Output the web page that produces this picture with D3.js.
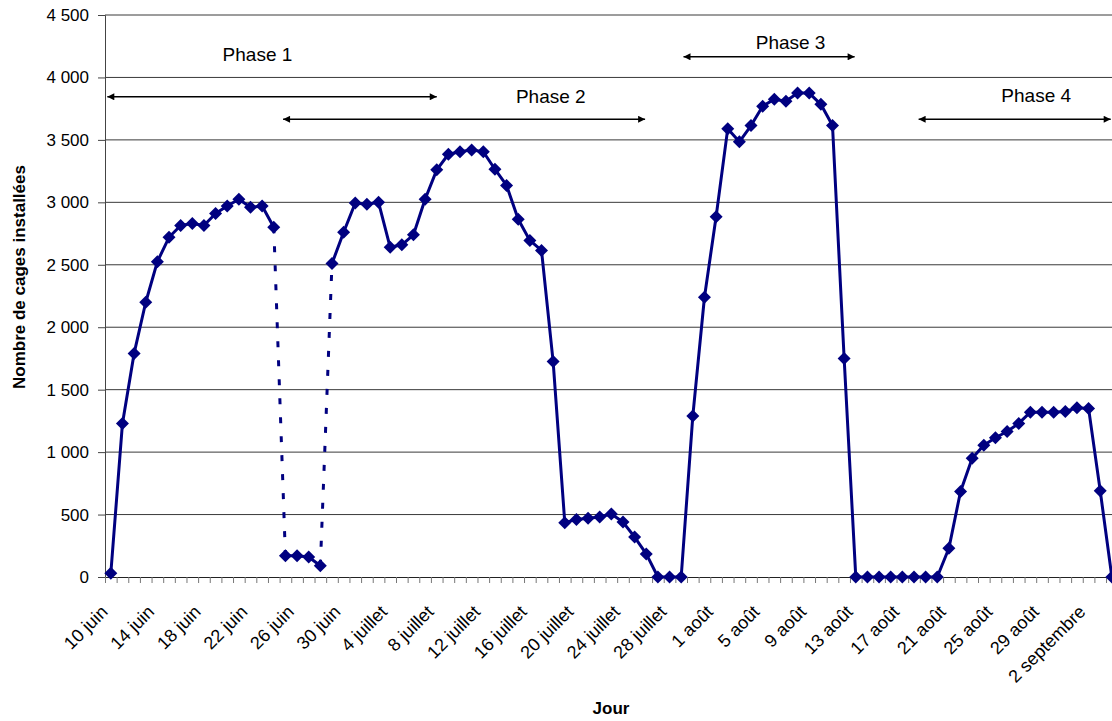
<!DOCTYPE html>
<html>
<head>
<meta charset="utf-8">
<script src="https://cdn.jsdelivr.net/npm/d3@7"></script>
<style>
  body { margin: 0; background: #fff; }
  svg { display: block; font-family: "Liberation Sans", Arial, sans-serif; }
</style>
</head>
<body>
<div id="chart-area"></div>
<script>
// one value per day, 10 juin -> 4 septembre
var firstDay = new Date(2005, 5, 10);
var lastDay = new Date(2005, 8, 4);

var cages = [
  30, 1230, 1790, 2200, 2525, 2720, 2815, 2830, 2815, 2910,
  2970, 3025, 2960, 2970, 2800, 170, 170, 160, 90, 2510,
  2760, 2995, 2985, 3000, 2640, 2660, 2740, 3025, 3260, 3385,
  3405, 3420, 3405, 3265, 3135, 2865, 2695, 2615, 1725, 435,
  460, 470, 480, 505, 440, 320, 185, 0, 0, 0,
  1290, 2240, 2885, 3590, 3485, 3615, 3770, 3825, 3810, 3875,
  3875, 3785, 3615, 1750, 0, 0, 0, 0, 0, 0,
  0, 0, 230, 685, 950, 1055, 1115, 1165, 1230, 1320,
  1320, 1320, 1325, 1355, 1350, 690, 0
];

// segments drawn dotted (start index of the segment)
var dottedFrom = [14, 18];

var xTickLabels = ["10 juin", "14 juin", "18 juin", "22 juin", "26 juin", "30 juin",
  "4 juillet", "8 juillet", "12 juillet", "16 juillet", "20 juillet", "24 juillet",
  "28 juillet", "1 août", "5 août", "9 août", "13 août", "17 août", "21 août",
  "25 août", "29 août", "2 septembre"];
var yTicks = [0, 500, 1000, 1500, 2000, 2500, 3000, 3500, 4000, 4500];

// phase annotations (positions in day index / number of cages)
var phaseNames = ["Phase 1", "Phase 2", "Phase 3", "Phase 4"];
var phaseFrom = [-0.3, 14.8, 49.2, 69.4];
var phaseTo = [28.0, 45.9, 63.9, 85.9];
var phaseArrowAt = [3845, 3665, 4165, 3665];
var phaseTextX = [12.6, 37.8, 58.4, 79.5];
var phaseTextAt = [4135, 3795, 4225, 3805];

var days = d3.timeDay.range(firstDay, d3.timeDay.offset(lastDay, 1));

var margin = { left: 105, top: 15, bottom: 144 };
var step = 11.64;
var width = days.length * step,
    height = 721 - margin.top - margin.bottom;

var svg = d3.select("#chart-area")
  .append("svg")
    .attr("width", 1112)
    .attr("height", 721);

svg.append("defs").append("marker")
    .attr("id", "head")
    .attr("viewBox", "0 0 10 10")
    .attr("refX", 10).attr("refY", 5)
    .attr("markerWidth", 10).attr("markerHeight", 7)
    .attr("markerUnits", "userSpaceOnUse")
    .attr("orient", "auto-start-reverse")
  .append("path")
    .attr("d", "M0,0L10,5L0,10Z")
    .attr("fill", "#000");

var g = svg.append("g")
    .attr("transform", "translate(" + margin.left + ", " + margin.top + ")");

var x = d3.scaleBand()
  .domain(d3.range(days.length))
  .range([0, width])
  .padding(0);
var xEdge = d3.scaleLinear().domain([0, days.length]).range([0, width]);
var xc = function (i) { return xEdge(i + 0.5); };

var y = d3.scaleLinear()
  .domain([0, 4500])
  .range([height, 0]);

var fr = d3.formatLocale({ decimal: ",", thousands: "\u00a0", grouping: [3], currency: ["", " €"] });

// gridlines
g.append("g")
  .selectAll("line")
  .data(yTicks.slice(1))
  .enter().append("line")
    .attr("x1", 0).attr("x2", width)
    .attr("y1", d => y(d)).attr("y2", d => y(d))
    .attr("stroke", "#3a3a3a").attr("stroke-width", 1);

// y axis
var yAxis = d3.axisLeft(y).tickValues(yTicks).tickSize(7).tickPadding(9).tickFormat(fr.format(",d"));
var ya = g.append("g").attr("class", "y-axis").call(yAxis);
ya.select(".domain").attr("stroke", "#444");
ya.selectAll(".tick line").attr("stroke", "#444");
ya.selectAll("text").attr("font-size", 17).attr("fill", "#000")
  .attr("font-family", "Liberation Sans, Arial, sans-serif");

// x axis: ticks on category boundaries
var xAxis = d3.axisBottom(xEdge).tickValues(d3.range(days.length + 1)).tickSize(6).tickFormat("");
var xa = g.append("g").attr("class", "x-axis")
  .attr("transform", "translate(0, " + height + ")")
  .call(xAxis);
xa.select(".domain").attr("stroke", "#222");
xa.selectAll(".tick line").attr("stroke", "#777");

g.append("g")
  .selectAll("text")
  .data(xTickLabels)
  .enter().append("text")
    .attr("transform", (d, i) => "translate(" + (xc(i * 4) - 2) + ", " + (height + 36) + ") rotate(-45)")
    .attr("text-anchor", "end")
    .attr("font-size", 18)
    .text(d => d);

// axis titles
g.append("text")
  .attr("transform", "translate(" + (-80) + ", " + 262 + ") rotate(-90)")
  .attr("text-anchor", "middle")
  .attr("font-weight", "bold")
  .attr("font-size", 17)
  .text("Nombre de cages installées");

svg.append("text")
  .attr("x", 611).attr("y", 714)
  .attr("text-anchor", "middle")
  .attr("font-weight", "bold")
  .attr("font-size", 17)
  .text("Jour");

// series
var line = d3.line().x(d => xc(d[0])).y(d => y(d[1]));
var pts = cages.map((v, i) => [i, v]);

var solidParts = [], cur = [];
pts.forEach(function (p, i) {
  cur.push(p);
  if (dottedFrom.indexOf(i) >= 0) { solidParts.push(cur); cur = []; }
});
solidParts.push(cur);

g.selectAll(".solid")
  .data(solidParts)
  .enter().append("path")
    .attr("class", "solid")
    .attr("d", line)
    .attr("fill", "none")
    .attr("stroke", "#000080")
    .attr("stroke-width", 3)
    .attr("stroke-linejoin", "round");

g.selectAll(".dotted")
  .data(dottedFrom.map(i => [pts[i], pts[i + 1]]))
  .enter().append("path")
    .attr("class", "dotted")
    .attr("d", line)
    .attr("fill", "none")
    .attr("stroke", "#000080")
    .attr("stroke-width", 3)
    .attr("stroke-dasharray", "6,13");

g.selectAll(".pt")
  .data(pts)
  .enter().append("path")
    .attr("class", "pt")
    .attr("transform", d => "translate(" + xc(d[0]) + "," + y(d[1]) + ")")
    .attr("d", "M0,-6.5L6.5,0L0,6.5L-6.5,0Z")
    .attr("fill", "#000080");

// phases
var phases = g.append("g").selectAll("g")
  .data(phaseNames)
  .enter().append("g");

phases.append("line")
  .attr("x1", (d, i) => xc(phaseFrom[i]))
  .attr("x2", (d, i) => xc(phaseTo[i]))
  .attr("y1", (d, i) => y(phaseArrowAt[i]))
  .attr("y2", (d, i) => y(phaseArrowAt[i]))
  .attr("stroke", "#000")
  .attr("stroke-width", 1.5)
  .attr("marker-start", "url(#head)")
  .attr("marker-end", "url(#head)");

phases.append("text")
  .attr("x", (d, i) => xc(phaseTextX[i]))
  .attr("y", (d, i) => y(phaseTextAt[i]))
  .attr("text-anchor", "middle")
  .attr("font-size", 19)
  .text(d => d);
</script>
</body>
</html>
